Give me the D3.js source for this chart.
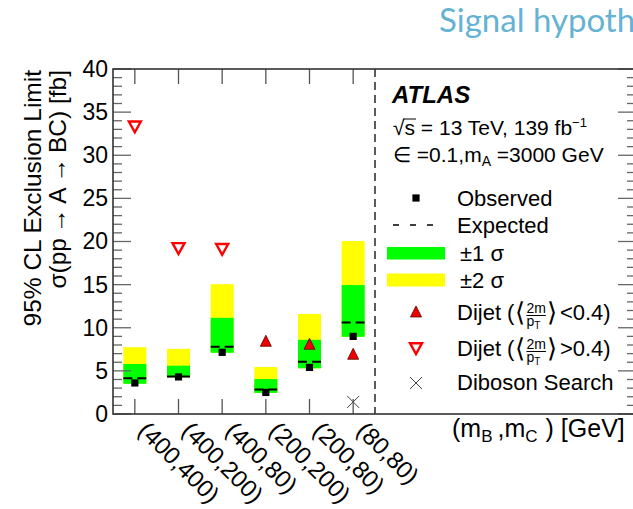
<!DOCTYPE html>
<html>
<head>
<meta charset="utf-8">
<script src="https://cdn.jsdelivr.net/npm/d3@7/dist/d3.min.js"></script>
<style>
  html, body { margin: 0; padding: 0; background: #fff; }
  svg { display: block; }
  text { font-family: "Liberation Sans", Arial, Helvetica, sans-serif; }
</style>
</head>
<body>
<svg id="chart" width="633" height="509"></svg>
<script>
// ---------------- data ----------------
const categories = ["(400,400)", "(400,200)", "(400,80)", "(200,200)", "(200,80)", "(80,80)"];
const observed   = [3.6, 4.3, 7.15, 2.5, 5.4, 9.0];
const expected   = [4.15, 4.35, 7.8, 2.85, 6.05, 10.6];
const band1Lo    = [3.5, 4.25, 7.1, 2.45, 5.3, 8.95];
const band1Hi    = [5.8, 5.6, 11.15, 4.05, 8.6, 14.95];
const band2Lo    = [3.5, 4.25, 7.1, 2.45, 5.3, 8.95];
const band2Hi    = [7.75, 7.55, 15.05, 5.45, 11.6, 20.05];
const dijetLow   = [null, null, null, 8.43, 8.08, 6.92];   // <2m/pT> < 0.4 (filled up triangle)
const dijetHigh  = [33.35, 19.25, 19.15, null, null, null]; // <2m/pT> > 0.4 (open down triangle)
const diboson    = [null, null, null, null, null, 1.4];
const yTicks     = [0, 5, 10, 15, 20, 25, 30, 35, 40];

// ---------------- layout ----------------
const svg = d3.select("#chart");
const W = 633, H = 509;
const frame = { left: 113, right: 636, top: 69, bottom: 414 };
const splitX = 375;

const y = d3.scaleLinear().domain([0, 40]).range([frame.bottom, frame.top]);
const x = d3.scaleBand().domain(categories).range([frame.left, splitX]).padding(0);
const cx = c => x(c) + x.bandwidth() / 2;
const boxW = 23;

svg.append("rect").attr("width", W).attr("height", H).attr("fill", "#fff");

// title (cut off at the right edge as in the reference)
svg.append("text")
  .attr("x", 439).attr("y", 32)
  .attr("fill", "#66b2d3")
  .style("font-family", "Lato, 'Open Sans', sans-serif")
  .style("font-size", "33px")
  .text("Signal hypothesis");

const g = svg.append("g");

// ---------------- bands ----------------
categories.forEach((c, i) => {
  g.append("rect")
    .attr("x", cx(c) - boxW / 2).attr("width", boxW)
    .attr("y", y(band2Hi[i])).attr("height", y(band2Lo[i]) - y(band2Hi[i]))
    .attr("fill", "#ffff00");
  g.append("rect")
    .attr("x", cx(c) - boxW / 2).attr("width", boxW)
    .attr("y", y(band1Hi[i])).attr("height", y(band1Lo[i]) - y(band1Hi[i]))
    .attr("fill", "#00ff00");
  g.append("line")
    .attr("x1", cx(c) - boxW / 2).attr("x2", cx(c) + boxW / 2)
    .attr("y1", y(expected[i])).attr("y2", y(expected[i]))
    .attr("stroke", "#000").attr("stroke-width", 2)
    .attr("stroke-dasharray", "9,5");
});

// observed squares
categories.forEach((c, i) => {
  g.append("rect")
    .attr("x", cx(c) - 3.6).attr("y", y(observed[i]) - 3.6)
    .attr("width", 7.2).attr("height", 7.2)
    .attr("fill", "#000");
});

// triangles
const upTri = (px, py, s) => `M${px},${py - s * 0.55} L${px + s / 2},${py + s * 0.45} L${px - s / 2},${py + s * 0.45} Z`;
const downTri = (px, py, s) => `M${px - s / 2},${py - s * 0.4} L${px + s / 2},${py - s * 0.4} L${px},${py + s * 0.5} Z`;

categories.forEach((c, i) => {
  if (dijetLow[i] != null) {
    g.append("path").attr("d", upTri(cx(c), y(dijetLow[i]), 11))
      .attr("fill", "#ee0000").attr("stroke", "#5a0000").attr("stroke-width", 0.8);
  }
  if (dijetHigh[i] != null) {
    g.append("path").attr("d", downTri(cx(c), y(dijetHigh[i]), 12))
      .attr("fill", "#fff").attr("stroke", "#ff0000").attr("stroke-width", 2.4)
      .attr("stroke-linejoin", "miter");
  }
  if (diboson[i] != null) {
    const px = cx(c), py = y(diboson[i]), s = 6;
    g.append("path").attr("d", `M${px - s},${py - s} L${px + s},${py + s} M${px - s},${py + s} L${px + s},${py - s}`)
      .attr("stroke", "#444").attr("stroke-width", 1);
  }
});

// ---------------- axes / frame ----------------
const axisCol = "#333";
const minor = d3.range(0, 41, 1);
minor.forEach(v => {
  const major = v % 5 === 0;
  const len = major ? 18 : 9;
  g.append("line").attr("x1", frame.left).attr("x2", frame.left + len)
    .attr("y1", y(v)).attr("y2", y(v)).attr("stroke", "#666").attr("stroke-width", 1.3);
  g.append("line").attr("x1", frame.right).attr("x2", frame.right - len)
    .attr("y1", y(v)).attr("y2", y(v)).attr("stroke", "#666").attr("stroke-width", 1.3);
});
categories.forEach(c => {
  g.append("line").attr("x1", cx(c)).attr("x2", cx(c))
    .attr("y1", frame.bottom).attr("y2", frame.bottom - 15).attr("stroke", "#555").attr("stroke-width", 1.3);
  g.append("line").attr("x1", cx(c)).attr("x2", cx(c))
    .attr("y1", frame.top).attr("y2", frame.top + 15).attr("stroke", "#555").attr("stroke-width", 1.3);
});

const yAxis = d3.axisLeft(y).tickValues(yTicks).tickSize(0).tickPadding(5).tickFormat(d3.format("d"));
const yA = svg.append("g").attr("transform", `translate(${frame.left},0)`).call(yAxis);
yA.select(".domain").remove();
yA.selectAll("text").style("font-size", "23px").style("font-family", "'Liberation Sans', Arial, sans-serif").attr("fill", "#000");

// frame
svg.append("rect").attr("x", frame.left).attr("y", frame.top)
  .attr("width", frame.right - frame.left).attr("height", frame.bottom - frame.top)
  .attr("fill", "none").attr("stroke", axisCol).attr("stroke-width", 1.6);

// dashed separator
svg.append("line").attr("x1", splitX).attr("x2", splitX).attr("y1", frame.top).attr("y2", frame.bottom)
  .attr("stroke", "#333").attr("stroke-width", 1.6).attr("stroke-dasharray", "8,5");

// x category labels, rotated
categories.forEach(c => {
  svg.append("text")
    .attr("transform", `translate(${cx(c) + 2},${frame.bottom + 18}) rotate(45)`)
    .style("font-size", "24px")
    .text(c);
});

// x axis title
const xt = svg.append("text").attr("x", 452).attr("y", 437).style("font-size", "25px");
xt.append("tspan").text("(m");
xt.append("tspan").attr("dy", 5).style("font-size", "17px").text("B");
xt.append("tspan").attr("dy", -5).attr("dx", 5).text(",m");
xt.append("tspan").attr("dy", 5).style("font-size", "17px").text("C");
xt.append("tspan").attr("dy", -5).attr("dx", 8).text(") [GeV]");

// y axis title (two lines)
svg.append("text")
  .attr("transform", `translate(41,70) rotate(-90)`)
  .attr("text-anchor", "end").style("font-size", "24.5px")
  .text("95% CL Exclusion Limit");
svg.append("text")
  .attr("transform", `translate(66,70) rotate(-90)`)
  .attr("text-anchor", "end").style("font-size", "24.5px")
  .text("σ(pp\u2009→\u2009A\u2009→\u2009BC) [fb]");

// ---------------- legend / annotations ----------------
svg.append("text").attr("x", 392).attr("y", 103)
  .style("font-size", "24px").style("font-weight", "bold").style("font-style", "italic")
  .text("ATLAS");

const t1 = svg.append("text").attr("x", 393).attr("y", 135).style("font-size", "21px");
t1.append("tspan").text("√");
t1.append("tspan").text("s");
t1.append("tspan").text(" = 13 TeV, 139 fb");
t1.append("tspan").attr("dy", -8).style("font-size", "13px").text("−1");
{
  const n = t1.node();
  const s0 = n.getStartPositionOfChar(1), e0 = n.getEndPositionOfChar(1);
  svg.append("line").attr("x1", s0.x - 1).attr("x2", e0.x + 1).attr("y1", 119).attr("y2", 119)
    .attr("stroke", "#000").attr("stroke-width", 1);
}

const t2 = svg.append("text").attr("x", 393).attr("y", 162).style("font-size", "21px");
t2.append("tspan").text("∈ =0.1,m");
t2.append("tspan").attr("dy", 4).style("font-size", "14px").text("A");
t2.append("tspan").attr("dy", -4).text(" =3000 GeV");

const legX = 457, legFont = "22px";
svg.append("rect").attr("x", 416 - 3.6).attr("y", 198 - 3.6).attr("width", 7.2).attr("height", 7.2).attr("fill", "#000");
svg.append("text").attr("x", legX).attr("y", 206).style("font-size", legFont).text("Observed");
svg.append("line").attr("x1", 393).attr("x2", 433).attr("y1", 225).attr("y2", 225)
  .attr("stroke", "#000").attr("stroke-width", 1.3).attr("stroke-dasharray", "6,11");
svg.append("text").attr("x", legX).attr("y", 233).style("font-size", legFont).text("Expected");
svg.append("rect").attr("x", 387).attr("y", 247).attr("width", 58).attr("height", 12.5).attr("fill", "#00ff00");
svg.append("text").attr("x", 460).attr("y", 261).style("font-size", legFont).text("±1 σ");
svg.append("rect").attr("x", 387).attr("y", 273.5).attr("width", 58).attr("height", 13).attr("fill", "#ffff00");
svg.append("text").attr("x", 460).attr("y", 288).style("font-size", legFont).text("±2 σ");

// dijet rows: one text element, with a stacked fraction 2m / pT inside
function dijetRow(baseY, relText) {
  const t = svg.append("text").attr("x", legX).attr("y", baseY).style("font-size", legFont);
  let cur = legX;
  const add = (sel, txt) => { sel.text(txt); cur += sel.node().getComputedTextLength(); return sel; };
  add(t.append("tspan").attr("x", cur).attr("y", baseY), "Dijet (");
  cur += 1;
  add(t.append("tspan").attr("x", cur).attr("y", baseY + 1).style("font-size", "26px"), "⟨");
  cur += 1;
  const fx = cur;
  const num = t.append("tspan").attr("x", fx).attr("y", baseY - 7).style("font-size", "14px").text("2m");
  const den = t.append("tspan").attr("x", fx).attr("y", baseY + 6).style("font-size", "14px").text("p");
  const sub = t.append("tspan").attr("y", baseY + 9).style("font-size", "10px").text("T");
  const fw = Math.max(num.node().getComputedTextLength(),
                      den.node().getComputedTextLength() + sub.node().getComputedTextLength());
  svg.append("line").attr("x1", fx).attr("x2", fx + fw).attr("y1", baseY - 4.5).attr("y2", baseY - 4.5)
    .attr("stroke", "#000").attr("stroke-width", 1);
  cur = fx + fw + 1;
  add(t.append("tspan").attr("x", cur).attr("y", baseY + 1).style("font-size", "26px"), "⟩");
  cur += 3;
  add(t.append("tspan").attr("x", cur).attr("y", baseY), relText);
}
svg.append("path").attr("d", upTri(416, 312, 11)).attr("fill", "#ee0000").attr("stroke", "#5a0000").attr("stroke-width", 0.8);
dijetRow(320, "<0.4)");
svg.append("path").attr("d", downTri(416, 348, 12)).attr("fill", "#fff").attr("stroke", "#ff0000").attr("stroke-width", 2.4);
dijetRow(356, ">0.4)");
svg.append("path").attr("d", `M410,377 L422,389 M410,389 L422,377`).attr("stroke", "#444").attr("stroke-width", 1);
svg.append("text").attr("x", legX).attr("y", 390).style("font-size", legFont).text("Diboson Search");
</script>
</body>
</html>
